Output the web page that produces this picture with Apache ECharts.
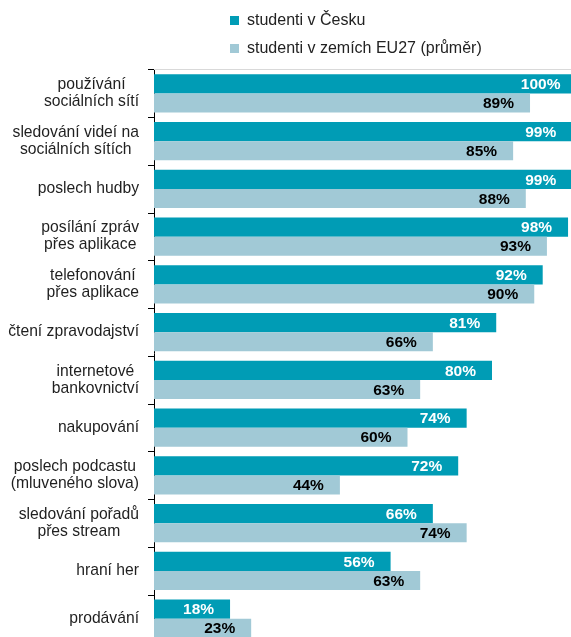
<!DOCTYPE html>
<html>
<head>
<meta charset="utf-8">
<script src="https://cdn.jsdelivr.net/npm/echarts@6/dist/echarts.min.js"></script>
<style>
html,body{margin:0;padding:0;background:#fff;}
#c{width:571px;height:637px;}
</style>
</head>
<body>
<div id="c"></div>
<script>
var categories = [
  'používání\nsociálních sítí',
  'sledování videí na\nsociálních sítích',
  'poslech hudby',
  'posílání zpráv\npřes aplikace',
  'telefonování\npřes aplikace',
  'čtení zpravodajství',
  'internetové\nbankovnictví',
  'nakupování',
  'poslech podcastu\n(mluveného slova)',
  'sledování pořadů\npřes stream',
  'hraní her',
  'prodávání'
];
var seriesNames = ['studenti v Česku', 'studenti v zemích EU27 (průměr)'];
var czValues = [100, 99, 99, 98, 92, 81, 80, 74, 72, 66, 56, 18];
var euValues = [89, 85, 88, 93, 90, 66, 63, 60, 44, 74, 63, 23];

var FONT = "'Liberation Sans', Arial, sans-serif";
var DARK = '#009cb5';
var LIGHT = '#a1c9d6';

var chart = echarts.init(document.getElementById('c'), null, {renderer: 'canvas'});
chart.setOption({
  animation: false,
  backgroundColor: '#ffffff',
  textStyle: {fontFamily: FONT},
  legend: {
    orient: 'vertical',
    left: 230,
    top: 12.5,
    padding: 0,
    itemGap: 12,
    itemWidth: 9,
    itemHeight: 9,
    icon: 'rect',
    textStyle: {fontFamily: FONT, fontSize: 16, lineHeight: 16, color: '#222222', padding: [0, 0, 0, 3]},
    data: seriesNames
  },
  grid: {left: 154, top: 69.5, width: 422.5, height: 573, containLabel: false, outerBoundsMode: 'none'},
  xAxis: {
    type: 'value', min: 0, max: 100, position: 'top',
    axisLine: {show: true, lineStyle: {color: '#d9d9d9', width: 1}},
    axisTick: {show: false}, axisLabel: {show: false}, splitLine: {show: false}
  },
  yAxis: {
    type: 'category', inverse: true, data: categories,
    axisLine: {show: true, lineStyle: {color: '#000', width: 1}},
    axisTick: {show: true, length: 6, lineStyle: {color: '#000'}},
    axisLabel: {
      margin: 15,
      align: 'right',
      formatter: function (v) {
        return v.split('\n').map(function (l) { return '{c|' + l + '}'; }).join('\n');
      },
      rich: {c: {fontFamily: FONT, fontSize: 15.7, lineHeight: 17, color: '#1f1f1f', align: 'center'}}
    }
  },
  series: [
    {
      name: seriesNames[0], type: 'bar', data: czValues,
      barGap: 0, barCategoryGap: '19.7%',
      itemStyle: {color: DARK},
      label: {show: true, position: 'insideRight', distance: 16, offset: [0, 1],
        formatter: '{c}%', color: '#ffffff', fontWeight: 'bold', fontSize: 15.5, fontFamily: FONT}
    },
    {
      name: seriesNames[1], type: 'bar', data: euValues,
      barGap: 0, barCategoryGap: '19.7%',
      itemStyle: {color: LIGHT},
      label: {show: true, position: 'insideRight', distance: 16, offset: [0, 1],
        formatter: '{c}%', color: '#000000', fontWeight: 'bold', fontSize: 15.5, fontFamily: FONT}
    }
  ]
});
</script>
</body>
</html>
